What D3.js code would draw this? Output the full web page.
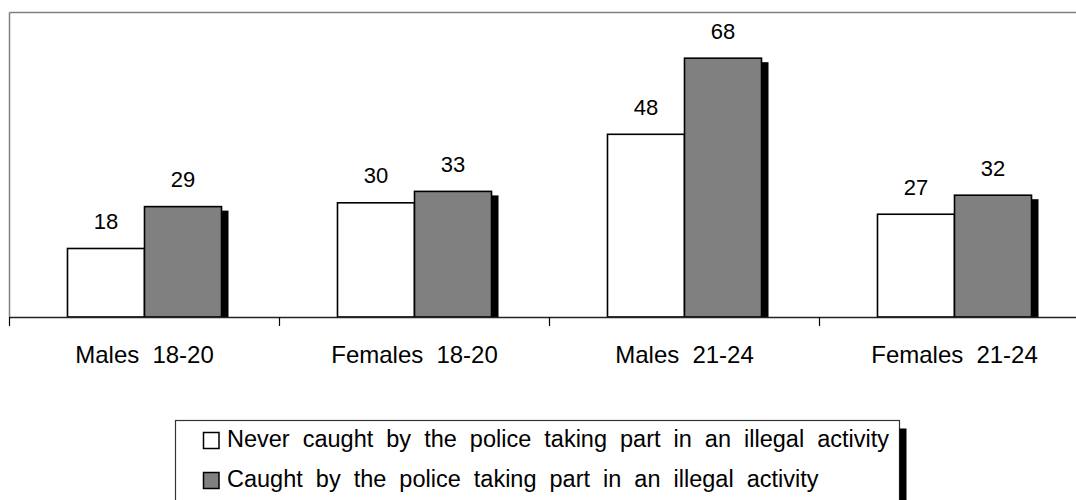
<!DOCTYPE html>
<html>
<head>
<meta charset="utf-8">
<script src="https://cdnjs.cloudflare.com/ajax/libs/d3/7.8.5/d3.min.js"></script>
<style>
  html, body { margin: 0; padding: 0; background: #fff; }
  svg { display: block; font-family: "Liberation Sans", Arial, sans-serif; }
</style>
</head>
<body>
<svg id="chart" width="1076" height="500"></svg>
<script>
// Survey groups and the share (%) in each series
const categories = ["Males 18-20", "Females 18-20", "Males 21-24", "Females 21-24"];
const seriesNames = [
  "Never caught by the police taking part in an illegal activity",
  "Caught by the police taking part in an illegal activity"
];
const neverCaught = [18, 30, 48, 27];
const caught = [29, 33, 68, 32];
const seriesFill = ["#ffffff", "#808080"];

const svg = d3.select("#chart");

// Plot area (right edge runs past the visible width)
const plot = { left: 9.5, right: 1089.5, top: 12.5, bottom: 317 };

const x0 = d3.scaleBand()
  .domain(categories)
  .range([plot.left, plot.right])
  .paddingInner(0)
  .paddingOuter(0);

const x1 = d3.scaleBand()
  .domain(d3.range(seriesNames.length))
  .range([0, x0.bandwidth()])
  .paddingInner(0)
  .paddingOuter(0.753);

const y = d3.scaleLinear().domain([0, 80]).range([plot.bottom, plot.top]);

const rows = categories.map((c, i) => ({
  category: c,
  values: [neverCaught[i], caught[i]]
}));

// Frame: grey top and left edges
svg.append("line")
  .attr("x1", plot.left).attr("x2", plot.right)
  .attr("y1", plot.top).attr("y2", plot.top)
  .attr("stroke", "#808080").attr("stroke-width", 1.5);
svg.append("line")
  .attr("x1", plot.left).attr("x2", plot.left)
  .attr("y1", plot.top).attr("y2", plot.bottom)
  .attr("stroke", "#808080").attr("stroke-width", 1.5);

const groups = svg.append("g").selectAll("g")
  .data(rows)
  .join("g")
  .attr("transform", d => `translate(${x0(d.category)},0)`);

const shadowDx = 7, shadowDy = 4;

// Drop shadows behind every bar
groups.selectAll("rect.shadow")
  .data(d => d.values.map((v, i) => ({ v, i })))
  .join("rect")
  .attr("class", "shadow")
  .attr("x", d => x1(d.i) + shadowDx)
  .attr("y", d => y(d.v) + shadowDy)
  .attr("width", x1.bandwidth())
  .attr("height", d => Math.max(0, y(0) - y(d.v) - shadowDy))
  .attr("fill", "#000");

// Bars
groups.selectAll("rect.bar")
  .data(d => d.values.map((v, i) => ({ v, i })))
  .join("rect")
  .attr("class", "bar")
  .attr("x", d => x1(d.i))
  .attr("y", d => y(d.v))
  .attr("width", x1.bandwidth())
  .attr("height", d => y(0) - y(d.v))
  .attr("fill", d => seriesFill[d.i])
  .attr("stroke", "#000")
  .attr("stroke-width", 1.6);

// Value labels
groups.selectAll("text.value")
  .data(d => d.values.map((v, i) => ({ v, i })))
  .join("text")
  .attr("class", "value")
  .attr("x", d => x1(d.i) + x1.bandwidth() / 2)
  .attr("y", d => y(d.v) - 19.5)
  .attr("text-anchor", "middle")
  .attr("font-size", 22)
  .attr("fill", "#000")
  .text(d => d.v);

// Category axis: baseline, boundary ticks, centred labels
const xAxis = svg.append("g")
  .attr("transform", `translate(0,${plot.bottom})`)
  .call(d3.axisBottom(x0).tickSize(0).tickPadding(46));
xAxis.select(".domain")
  .attr("stroke", "#222").attr("stroke-width", 1.6);
xAxis.selectAll(".tick text")
  .attr("font-size", 24)
  .attr("font-family", "Liberation Sans, Arial, sans-serif")
  .attr("fill", "#000")
  .attr("dy", 0)
  .attr("word-spacing", 6.5);

const boundaries = categories.map(c => x0(c)).concat([x0.range()[1]]);
svg.append("g").selectAll("line")
  .data(boundaries)
  .join("line")
  .attr("x1", d => d).attr("x2", d => d)
  .attr("y1", plot.bottom).attr("y2", plot.bottom + 9)
  .attr("stroke", "#000").attr("stroke-width", 1.2);

// Legend
const legend = svg.append("g");
const legendLeft = 175.5, legendTop = 420.5;
const rowBase = [447, 487];

const legendItems = legend.selectAll("g.item")
  .data(seriesNames)
  .join("g")
  .attr("class", "item");

legendItems.append("rect")
  .attr("x", 203.5)
  .attr("y", (d, i) => rowBase[i] - 14.5)
  .attr("width", 15.5)
  .attr("height", 16)
  .attr("fill", (d, i) => seriesFill[i])
  .attr("stroke", "#000")
  .attr("stroke-width", 1.5);

const legendTexts = legendItems.append("text")
  .attr("x", 227)
  .attr("y", (d, i) => rowBase[i])
  .attr("font-size", 23.5)
  .attr("word-spacing", 6.5)
  .attr("fill", "#000")
  .text(d => d);

const textRight = d3.max(legendTexts.nodes(), n => 227 + n.getComputedTextLength());
const legendRight = Math.round(textRight + 10) + 0.5;

legend.insert("rect", ":first-child")
  .attr("x", legendRight)
  .attr("y", legendTop + 8)
  .attr("width", 7)
  .attr("height", 100)
  .attr("fill", "#000");
legend.insert("rect", ":first-child")
  .attr("x", legendLeft)
  .attr("y", legendTop)
  .attr("width", legendRight - legendLeft)
  .attr("height", 120)
  .attr("fill", "#fff")
  .attr("stroke", "#333")
  .attr("stroke-width", 1.2);
</script>
</body>
</html>
